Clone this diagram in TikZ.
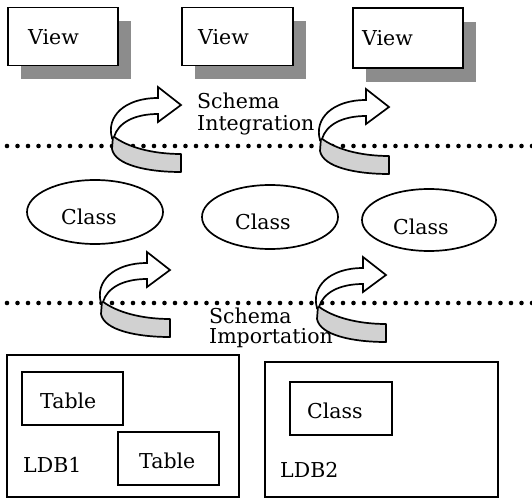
\documentclass[tikz,border=0pt]{standalone}
\usepackage{fontspec}
\setmainfont{DejaVu Serif}
\usetikzlibrary{shapes.geometric,shadows}
\begin{document}
\begin{tikzpicture}[x=1pt,y=-1pt,
  every node/.style={font=\fontsize{20.5}{23}\selectfont},
  lbl/.style={anchor=base west, inner sep=0pt},
  viewbox/.style={draw, line width=1.6pt, fill=white, inner sep=0pt,
     drop shadow={shadow xshift=13pt, shadow yshift=-14pt, fill=black!45, opacity=1}},
  plainbox/.style={draw, line width=1.6pt, inner sep=0pt},
  classell/.style={draw, ellipse, line width=1.7pt, inner sep=0pt},
  dotline/.style={line width=4.6pt, line cap=round, dash pattern=on 0pt off 10.5pt},
  bandfill/.style={draw, line width=1.7pt, fill=black!18, line join=round},
  shaftfill/.style={draw, line width=1.7pt, fill=white, line join=miter},
  ribbon/.pic={
    \path[bandfill] (1,-1) .. controls (15,10) and (40,17) .. (69,17)
        -- (69,35) .. controls (35,35) and (3,28) .. (0,12) -- cycle;
    \path[shaftfill] (0,1) .. controls (-6,-20) and (12,-39) .. (46,-39)
        -- (46,-50) -- (69,-32) -- (46,-15) -- (46,-23)
        .. controls (22,-23) and (6,-14) .. (2,0) -- cycle;
  }]
\useasboundingbox (0,0) rectangle (532,500);

% dotted separator lines
\coordinate (d1a) at (7,146);  \coordinate (d1b) at (532,146);
\coordinate (d2a) at (7,303);  \coordinate (d2b) at (532,303);
\draw[dotline] (d1a) -- (d1b);
\draw[dotline] (d2a) -- (d2b);

% views
\node[viewbox, minimum width=110pt, minimum height=58pt] (v1) at (63,36.5) {};
\node[viewbox, minimum width=111pt, minimum height=58pt] (v2) at (237.5,36.5) {};
\node[viewbox, minimum width=110pt, minimum height=60pt] (v3) at (408,38) {};
\node[lbl] (t1) at (28,45) {View};
\node[lbl] (t2) at (198,45) {View};
\node[lbl] (t3) at (362,46) {View};

% schema integration arrows
\pic at (112,137) {ribbon};
\pic at (320,139) {ribbon};
\node[lbl] (si1) at (197,109) {Schema};
\node[lbl] (si2) at (197,130) {Integration};

% classes
\node[classell, minimum width=136pt, minimum height=64pt] (c1) at (95,212) {};
\node[classell, minimum width=136pt, minimum height=64pt] (c2) at (270,217) {};
\node[classell, minimum width=134pt, minimum height=62pt] (c3) at (429,220) {};
\node[lbl] (ct1) at (61,224) {Class};
\node[lbl] (ct2) at (235,229) {Class};
\node[lbl] (ct3) at (393,234) {Class};

% schema importation arrows
\pic at (101,302) {ribbon};
\pic at (317,307) {ribbon};
\node[lbl] (sm1) at (209,323) {Schema};
\node[lbl] (sm2) at (209,343) {Importation};

% local databases
\node[plainbox, minimum width=232pt, minimum height=142pt] (ldb1) at (123,426) {};
\node[plainbox, minimum width=233pt, minimum height=135pt] (ldb2) at (381.5,429.5) {};
\node[plainbox, minimum width=101pt, minimum height=53pt] (tb1) at (72.5,398.5) {};
\node[plainbox, minimum width=101pt, minimum height=53pt] (tb2) at (168.5,458.5) {};
\node[plainbox, minimum width=102pt, minimum height=53pt] (cb) at (341,408.5) {};
\node[lbl] (tt1) at (40,408) {Table};
\node[lbl] (tt2) at (139,468) {Table};
\node[lbl] (ld1) at (23,472) {LDB1};
\node[lbl] (cbt) at (307,418) {Class};
\node[lbl] (ld2) at (280,477) {LDB2};
\end{tikzpicture}
\end{document}
